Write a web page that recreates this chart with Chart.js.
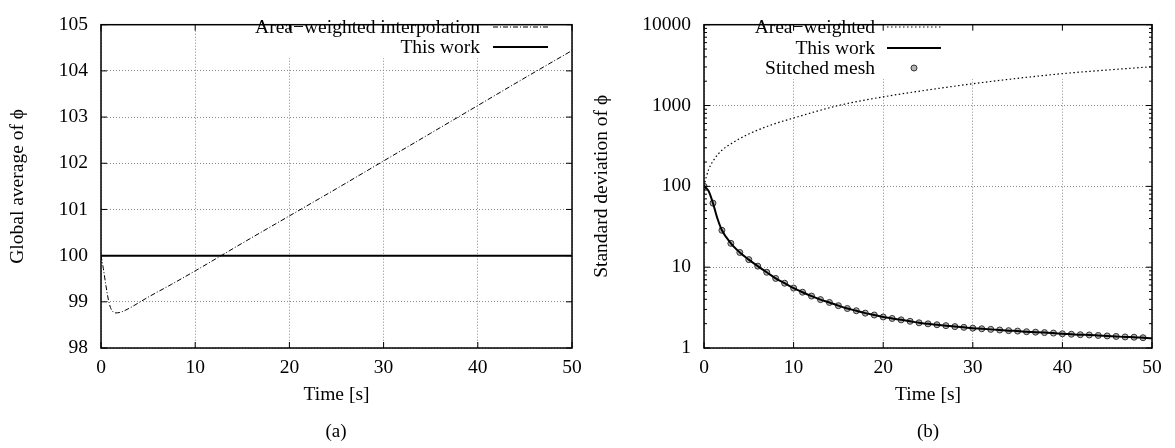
<!DOCTYPE html>
<html lang="en">
<head>
<meta charset="UTF-8">
<title>Global average and standard deviation of phi</title>
<script src="https://cdn.jsdelivr.net/npm/chart.js"></script>
<style>
  body { margin: 0; background: #fff; width: 1175px; height: 448px; position: relative; overflow: hidden; }
  canvas { position: absolute; top: 0; }
  #chartA { left: 0; }
  #chartB { left: 590px; }
  .cap { position: absolute; top: 420px; width: 60px; text-align: center;
         font-family: "Liberation Serif", "Times New Roman", serif; font-size: 19px; color: #000; }
</style>
</head>
<body>
<canvas id="chartA" width="590" height="448"></canvas>
<canvas id="chartB" width="585" height="448"></canvas>
<div class="cap" style="left:306px">(a)</div>
<div class="cap" style="left:898px">(b)</div>
<script>
// (a) global average of phi
const timeA = [0, 0.25, 0.5, 0.75, 1, 1.25, 1.5, 2, 3, 4, 5, 7.5, 10, 15, 20, 25, 30, 35, 40, 45, 50];
const areaA = [100, 99.72, 99.38, 99.08, 98.88, 98.79, 98.76, 98.77, 98.86, 98.98, 99.1, 99.38, 99.67,
               100.27, 100.86, 101.45, 102.05, 102.65, 103.25, 103.85, 104.44];
const timeWorkA = [0, 50];
const workA = [100, 100];
const yTicksA = [98, 99, 100, 101, 102, 103, 104, 105];

// (b) standard deviation of phi
const timeAreaB = [0, 0.25, 0.5, 1, 2, 3, 4, 5, 7.5, 10, 15, 20, 25, 30, 35, 40, 45, 50];
const areaB = [100, 130, 160, 205, 280, 335, 390, 445, 575, 700, 1000, 1280, 1560, 1860, 2170, 2480, 2750, 3020];
const timeWorkB = [0, 0.5, 1, 1.5, 2, 3, 4, 5, 6, 7, 8, 9, 10, 11, 12, 13, 14, 15, 16, 17, 18, 19, 20,
                   21, 22, 23, 24, 25, 26, 27, 28, 29, 30, 31, 32, 33, 34, 35, 36, 37, 38, 39, 40,
                   41, 42, 43, 44, 45, 46, 47, 48, 49, 50];
const workB = [100, 88, 62, 40, 28.6, 19.7, 15.2, 12.4, 10.3, 8.65, 7.26, 6.33, 5.52, 4.9, 4.39, 3.97, 3.66,
               3.34, 3.08, 2.89, 2.70, 2.56, 2.42, 2.32, 2.23, 2.14, 2.05, 1.99, 1.94, 1.89, 1.84, 1.80,
               1.76, 1.73, 1.70, 1.67, 1.64, 1.62, 1.59, 1.57, 1.55, 1.53, 1.50, 1.48, 1.46, 1.45, 1.43,
               1.41, 1.39, 1.37, 1.36, 1.34, 1.32];
const timeMeshB = [0, 1, 2, 3, 4, 5, 6, 7, 8, 9, 10, 11, 12, 13, 14, 15, 16, 17, 18, 19, 20, 21, 22, 23, 24,
                   25, 26, 27, 28, 29, 30, 31, 32, 33, 34, 35, 36, 37, 38, 39, 40, 41, 42, 43, 44, 45, 46,
                   47, 48, 49];
const meshB = [100, 62, 28.6, 19.7, 15.2, 12.4, 10.3, 8.65, 7.26, 6.33, 5.52, 4.9, 4.39, 3.97, 3.66, 3.34,
               3.08, 2.89, 2.70, 2.56, 2.42, 2.32, 2.23, 2.14, 2.05, 1.99, 1.94, 1.89, 1.84, 1.80, 1.76,
               1.73, 1.70, 1.67, 1.64, 1.62, 1.59, 1.57, 1.55, 1.53, 1.50, 1.48, 1.46, 1.45, 1.43, 1.41,
               1.39, 1.37, 1.36, 1.34];
const yTicksB = [1, 10, 100, 1000, 10000];
const xTicks = [0, 10, 20, 30, 40, 50];

const serif = '"Liberation Serif", "Times New Roman", serif';
const fs = 19.5;
const pts = (xs, ys) => xs.map((x, i) => ({ x: x, y: ys[i] }));

// gnuplot style frame: box, inward ticks, opaque key
const frame = {
  id: 'frame',
  beforeDatasetsDraw(chart, args, o) {
    const ctx = chart.ctx, a = chart.chartArea;
    ctx.save();
    ctx.font = fs + 'px ' + serif;
    let w = 0;
    chart.data.datasets.forEach(d => { w = Math.max(w, ctx.measureText(d.label).width); });
    ctx.fillStyle = '#fff';
    ctx.fillRect(o.textRight - w - 8, a.top + 1, a.right - (o.textRight - w - 8) - 1, o.boxBottom - a.top);
    ctx.restore();
  },
  afterDraw(chart, args, o) {
    const ctx = chart.ctx, a = chart.chartArea;
    const xs = chart.scales.x, ys = chart.scales.y;
    ctx.save();
    ctx.strokeStyle = '#000';
    ctx.lineWidth = 1;
    const seg = (x0, y0, x1, y1) => { ctx.beginPath(); ctx.moveTo(x0, y0); ctx.lineTo(x1, y1); ctx.stroke(); };
    xs.ticks.forEach(t => {
      const px = xs.getPixelForValue(t.value);
      seg(px, a.bottom, px, a.bottom - 6);
      seg(px, a.top, px, a.top + 6);
    });
    ys.ticks.forEach(t => {
      const py = ys.getPixelForValue(t.value);
      seg(a.left, py, a.left + 6, py);
      seg(a.right, py, a.right - 6, py);
    });
    if (o.minor) {
      for (let k = 0; k < 4; k++) {
        for (let m = 2; m <= 9; m++) {
          const py = ys.getPixelForValue(m * Math.pow(10, k));
          seg(a.left, py, a.left + 3, py);
          seg(a.right, py, a.right - 3, py);
        }
      }
    }
    ctx.lineWidth = 1.5;
    ctx.strokeRect(a.left, a.top, a.right - a.left, a.bottom - a.top);

    // key
    ctx.font = fs + 'px ' + serif;
    ctx.fillStyle = '#000';
    ctx.textAlign = 'right';
    ctx.textBaseline = 'middle';
    chart.data.datasets.forEach((d, i) => {
      const y = o.rows[i];
      ctx.fillText(d.label, o.textRight, y + 1);
      if (d.showLine === false) {
        ctx.beginPath();
        ctx.arc((o.sampleFrom + o.sampleTo) / 2, y, d.pointRadius, 0, Math.PI * 2);
        ctx.fillStyle = d.pointBackgroundColor;
        ctx.fill();
        ctx.lineWidth = d.pointBorderWidth;
        ctx.strokeStyle = d.pointBorderColor;
        ctx.stroke();
        ctx.fillStyle = '#000';
      } else {
        ctx.setLineDash(d.borderDash || []);
        ctx.lineWidth = d.borderWidth;
        ctx.strokeStyle = d.borderColor;
        seg(o.sampleFrom, y, o.sampleTo, y);
        ctx.setLineDash([]);
      }
    });
    ctx.restore();
  }
};

function axes(yOpts, yWidth, titleY, titlePad) {
  return {
    x: {
      type: 'linear', min: 0, max: 50,
      afterBuildTicks: s => { s.ticks = xTicks.map(v => ({ value: v })); },
      afterFit: s => { s.height = 100; },
      grid: { color: '#888', lineWidth: 1, drawTicks: false },
      border: { display: false, dash: [1, 2] },
      ticks: { color: '#000', padding: 8, font: { family: serif, size: fs }, maxRotation: 0 },
      title: { display: true, text: 'Time [s]', color: '#000', font: { family: serif, size: fs },
               padding: { top: 0, bottom: 41 } }
    },
    y: Object.assign({
      afterFit: s => { s.width = yWidth; },
      grid: { color: '#888', lineWidth: 1, drawTicks: false },
      border: { display: false, dash: [1, 2] },
      ticks: { color: '#000', padding: 13, font: { family: serif, size: fs }, callback: v => String(v) },
      title: { display: true, text: titleY, color: '#000', font: { family: serif, size: fs },
               padding: { top: titlePad, bottom: 0 } }
    }, yOpts)
  };
}

new Chart(document.getElementById('chartA'), {
  type: 'line',
  data: {
    datasets: [
      { label: 'Area\u2212weighted interpolation', data: pts(timeA, areaA), borderColor: '#000',
        borderWidth: 1, borderDash: [5, 2, 1, 2], pointRadius: 0, cubicInterpolationMode: 'monotone' },
      { label: 'This work', data: pts(timeWorkA, workA), borderColor: '#000', borderWidth: 2, pointRadius: 0 }
    ]
  },
  options: {
    responsive: false, animation: false,
    layout: { padding: { top: 12, right: 18, left: 0, bottom: 0 } },
    plugins: {
      legend: { display: false }, tooltip: { enabled: false },
      frame: { textRight: 480, rows: [27, 47], sampleFrom: 493, sampleTo: 548, boxBottom: 57 }
    },
    scales: axes({
      type: 'linear', min: 98, max: 105,
      afterBuildTicks: s => { s.ticks = yTicksA.map(v => ({ value: v })); }
    }, 101, 'Global average of \u03d5', 6)
  },
  plugins: [frame]
});

new Chart(document.getElementById('chartB'), {
  type: 'line',
  data: {
    datasets: [
      { label: 'Area\u2212weighted', data: pts(timeAreaB, areaB), borderColor: '#000',
        borderWidth: 1.2, borderDash: [1.5, 2.5], pointRadius: 0, cubicInterpolationMode: 'monotone' },
      { label: 'This work', data: pts(timeWorkB, workB), borderColor: '#000', borderWidth: 2,
        pointRadius: 0, cubicInterpolationMode: 'monotone' },
      { label: 'Stitched mesh', data: pts(timeMeshB, meshB), showLine: false, pointRadius: 3,
        pointBackgroundColor: '#b5b5b5', pointBorderColor: '#333', pointBorderWidth: 1 }
    ]
  },
  options: {
    responsive: false, animation: false,
    layout: { padding: { top: 12, right: 23, left: 0, bottom: 0 } },
    plugins: {
      legend: { display: false }, tooltip: { enabled: false },
      frame: { textRight: 285, rows: [27, 48, 68], sampleFrom: 297, sampleTo: 351, boxBottom: 78, minor: true }
    },
    scales: axes({
      type: 'logarithmic', min: 1, max: 10000,
      afterBuildTicks: s => { s.ticks = yTicksB.map(v => ({ value: v })); }
    }, 114, 'Standard deviation of \u03d5', 0)
  },
  plugins: [frame]
});
</script>
</body>
</html>
